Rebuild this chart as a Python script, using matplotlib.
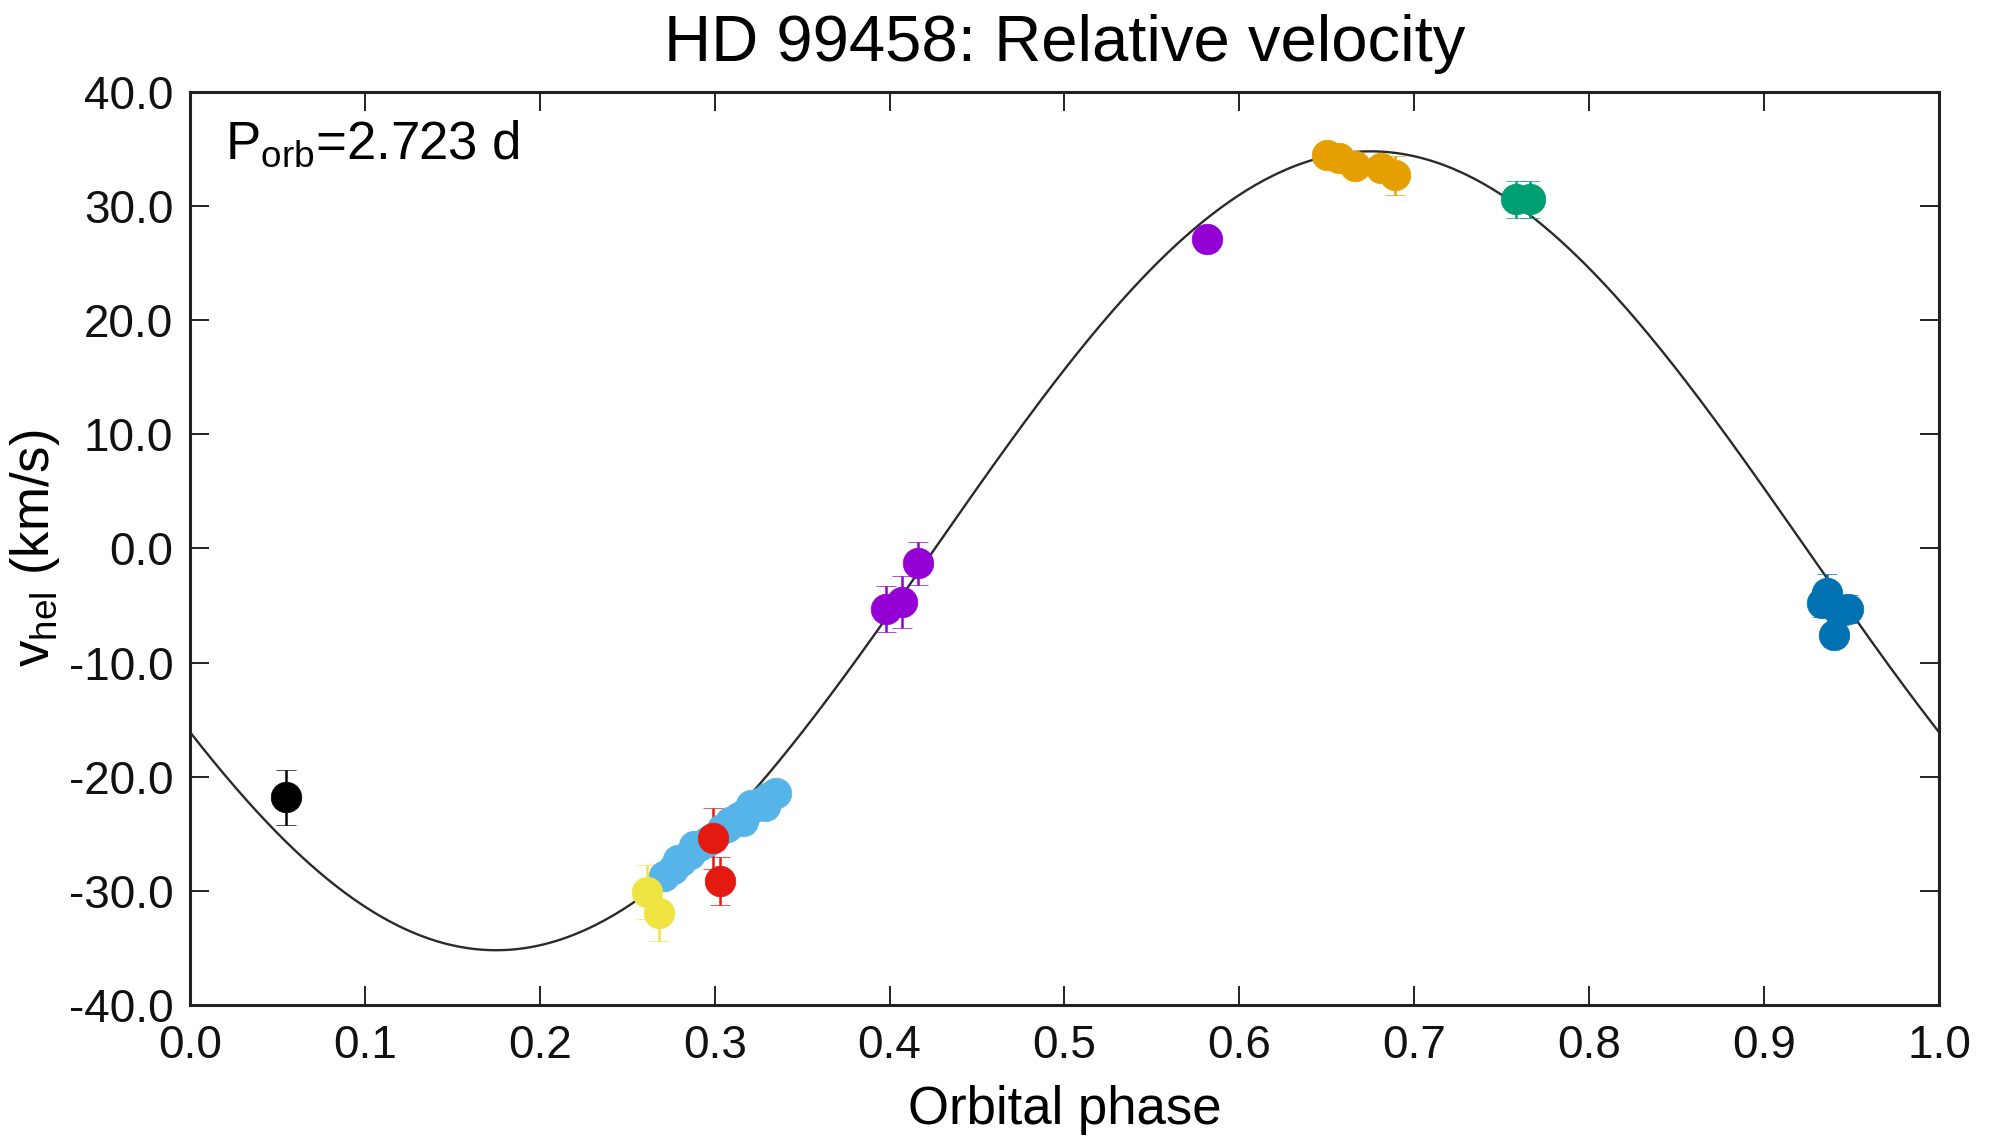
import numpy as np
import matplotlib
matplotlib.use("Agg")
import matplotlib.pyplot as plt

plt.rcParams['font.family'] = ['Liberation Sans', 'DejaVu Sans']
plt.rcParams['mathtext.fontset'] = 'custom'
plt.rcParams['mathtext.rm'] = 'Liberation Sans'
plt.rcParams['mathtext.it'] = 'Liberation Sans:italic'

# ---- data ----
black_phase = [0.055]
black_v = [-21.8]
black_err = [2.4]

lblue_phase = [0.271, 0.276, 0.279, 0.281, 0.286, 0.288, 0.291, 0.296, 0.304,
               0.307, 0.309, 0.314, 0.316, 0.319, 0.321, 0.323, 0.327, 0.329,
               0.331, 0.335]
lblue_v = [-28.7, -28.1, -27.3, -27.4, -26.8, -26.1, -26.1, -25.6, -24.6,
           -24.4, -24.0, -23.5, -23.9, -23.0, -22.5, -22.6, -22.2, -22.6,
           -21.8, -21.4]
lblue_err = [1.0] * len(lblue_phase)

yellow_phase = [0.261, 0.268]
yellow_v = [-30.1, -31.9]
yellow_err = [2.4, 2.5]

red_phase = [0.299, 0.303]
red_v = [-25.4, -29.1]
red_err = [2.7, 2.1]

purple_phase = [0.398, 0.407, 0.416, 0.5815]
purple_v = [-5.3, -4.7, -1.3, 27.1]
purple_err = [2.0, 2.3, 1.9, 1.0]

orange_phase = [0.650, 0.657, 0.666, 0.681, 0.689]
orange_v = [34.5, 34.2, 33.5, 33.3, 32.7]
orange_err = [0.8, 0.8, 0.8, 1.0, 1.7]

green_phase = [0.758, 0.766]
green_v = [30.6, 30.6]
green_err = [1.6, 1.6]

blue_phase = [0.933, 0.936, 0.943, 0.948, 0.940]
blue_v = [-4.8, -3.9, -5.5, -5.3, -7.6]
blue_err = [1.2, 1.7, 1.2, 1.2, 1.0]

# orbital fit parameters
K_amp = 35.0
gamma = -0.2
phase_zero = 0.425

xticks = [0.0, 0.1, 0.2, 0.3, 0.4, 0.5, 0.6, 0.7, 0.8, 0.9, 1.0]
yticks = [-40, -30, -20, -10, 0, 10, 20, 30, 40]

groups = [
    (black_phase, black_v, black_err, '#000000'),
    (lblue_phase, lblue_v, lblue_err, '#56B4E9'),
    (yellow_phase, yellow_v, yellow_err, '#F0E442'),
    (red_phase, red_v, red_err, '#E41A10'),
    (purple_phase, purple_v, purple_err, '#9400D3'),
    (orange_phase, orange_v, orange_err, '#E69F00'),
    (green_phase, green_v, green_err, '#009E73'),
    (blue_phase, blue_v, blue_err, '#0072B2'),
]

fig = plt.figure(figsize=(19.94, 11.37), dpi=100)
ax = fig.add_axes([0.0953, 0.1161, 0.8771, 0.8030])

ph = np.linspace(0, 1, 600)
ax.plot(ph, gamma + K_amp * np.sin(2 * np.pi * (ph - phase_zero)),
        color='#2a2a2a', lw=1.7, zorder=1)

for x, y, e, c in groups:
    ax.errorbar(x, y, yerr=e, fmt='o', color=c, ms=22, mec=c, mew=0.5,
                elinewidth=1.8, capsize=7, capthick=2.0, zorder=3)

ax.set_xlim(0, 1)
ax.set_ylim(-40, 40)
ax.set_xticks(xticks)
ax.set_xticklabels([f"{t:.1f}" for t in xticks])
ax.set_yticks(yticks)
ax.set_yticklabels([f"{t:.1f}" for t in yticks])
ax.tick_params(direction='in', length=14, width=1.3, top=True, right=True,
               labelsize=33, colors='#111111')
ax.tick_params(axis='x', pad=14)
ax.tick_params(axis='y', pad=12)
for s in ax.spines.values():
    s.set_linewidth(2.2)
    s.set_color('#222222')

ax.set_xlabel('Orbital phase', fontsize=38, labelpad=12)
ax.set_ylabel(r'v$_\mathregular{hel}$ (km/s)', fontsize=38, labelpad=5)
ax.set_title('HD 99458: Relative velocity', fontsize=47, pad=22)
ax.text(0.02, 0.97, r'P$_\mathregular{orb}$=2.723 d', transform=ax.transAxes,
        fontsize=38, va='top', ha='left')

fig.savefig('out.png', dpi=100)
